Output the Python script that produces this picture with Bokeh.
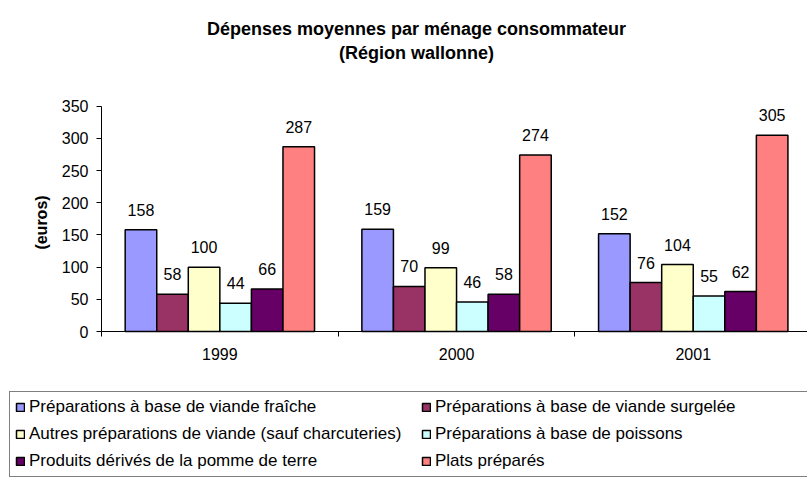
import math
from bokeh.plotting import figure
from bokeh.models import ColumnDataSource, Range1d, FixedTicker, Legend, LegendItem, Label
from bokeh.transform import dodge
from bokeh.core.properties import value
from bokeh.embed import file_html
from bokeh.resources import INLINE

# ---- data ----
years = ["1999", "2000", "2001"]
series_names = [
    "Préparations à base de viande fraîche",
    "Préparations à base de viande surgelée",
    "Autres préparations de viande (sauf charcuteries)",
    "Préparations à base de poissons",
    "Produits dérivés de la pomme de terre",
    "Plats préparés",
]
viande_fraiche = [158, 159, 152]
viande_surgelee = [58, 70, 76]
autres_viande = [100, 99, 104]
poissons = [44, 46, 55]
pomme_de_terre = [66, 58, 62]
plats_prepares = [287, 274, 305]
y_ticks = [0, 50, 100, 150, 200, 250, 300, 350]
title_line1 = "Dépenses moyennes par ménage consommateur"
title_line2 = "(Région wallonne)"
y_label = "(euros)"

colors = ["#9999FF", "#993366", "#FFFFCC", "#CCFFFF", "#660066", "#FF8080"]
series_values = [viande_fraiche, viande_surgelee, autres_viande, poissons,
                 pomme_de_terre, plats_prepares]

FONT = "Liberation Sans"
W, H = 807, 477

# pixel anchors of the plot area (layout only)
axis_x_px = 101.0      # y axis line
cat_w_px = 236.7       # width of one category
zero_y_px = 331.0      # x axis line (y = 0)
top_y_px = 105.7       # y = 350
y_max_axis = 350

px_per_unit = (zero_y_px - top_y_px) / y_max_axis
x_start = -axis_x_px / cat_w_px
x_end = (W - axis_x_px) / cat_w_px
y_start = -(H - zero_y_px) / px_per_unit
y_end = zero_y_px / px_per_unit

centers = [i + 0.5 for i in range(len(years))]
boundaries = [float(i) for i in range(len(years) + 1)]

data = {"xc": centers}
for k, vals in enumerate(series_values):
    data[f"s{k}"] = vals
    data[f"s{k}_lbl"] = [str(v) for v in vals]
src = ColumnDataSource(data)

p = figure(width=W, height=H, output_backend="svg", toolbar_location=None,
           x_range=Range1d(x_start, x_end), y_range=Range1d(y_start, y_end),
           min_border=0)
p.xgrid.visible = False
p.ygrid.visible = False
p.outline_line_color = None
p.background_fill_color = "white"
p.border_fill_color = "white"

n = len(series_values)
group = 0.8
bw = group / n

renderers = []
for k in range(n):
    off = (k - (n - 1) / 2) * bw
    r = p.vbar(x=dodge("xc", off), top=f"s{k}", width=bw, source=src,
               fill_color=colors[k], line_color="black", line_width=1.5)
    renderers.append(r)
    p.text(x=dodge("xc", off), y=f"s{k}", text=f"s{k}_lbl", source=src,
           text_align="center", text_baseline="alphabetic", y_offset=-20,
           text_font=value(FONT), text_font_size="16px", text_color="black")

# x axis, fixed at y = 0
xa = p.xaxis[0]
xa.fixed_location = 0
xa.bounds = (0, x_end)
xa.ticker = FixedTicker(ticks=centers, minor_ticks=boundaries)
xa.major_label_overrides = {c: y for c, y in zip(centers, years)}
xa.major_tick_out = 0
xa.major_tick_in = 0
xa.minor_tick_out = 5
xa.minor_tick_in = 0
xa.minor_tick_line_color = "black"
xa.axis_line_color = "black"
xa.major_label_standoff = 11
xa.major_label_text_font = FONT
xa.major_label_text_font_size = "16px"
xa.major_label_text_color = "black"

# y axis, fixed at x = 0
ya = p.yaxis[0]
ya.fixed_location = 0
ya.bounds = (0, y_max_axis)
ya.ticker = FixedTicker(ticks=y_ticks)
ya.major_tick_out = 5
ya.major_tick_in = 0
ya.minor_tick_out = 0
ya.minor_tick_in = 0
ya.axis_line_color = "black"
ya.major_tick_line_color = "black"
ya.major_label_standoff = 8
ya.major_label_text_font = FONT
ya.major_label_text_font_size = "16px"
ya.major_label_text_color = "black"

# y axis title
p.add_layout(Label(x=41, y=H - 222, x_units="screen", y_units="screen",
                   text=y_label, angle=math.pi / 2, text_align="center",
                   text_baseline="middle", text_font=FONT, text_font_size="16px",
                   text_font_style="bold", text_color="black"))

# chart title
for txt, base_px in [(title_line1, 28.5), (title_line2, 52.0)]:
    p.add_layout(Label(x=416, y=H - base_px, x_units="screen", y_units="screen",
                       text=txt, text_align="center", text_baseline="alphabetic",
                       text_font=FONT, text_font_size="18px",
                       text_font_style="bold", text_color="black"))

# legend (location = bottom-left corner of the box, in frame pixels)
legend_top_px = 389
legend_h_px = 88
items = [LegendItem(label=nm, renderers=[r]) for nm, r in zip(series_names, renderers)]
legend = Legend(items=items, location=(9, H - legend_top_px - legend_h_px),
                orientation="horizontal", ncols=2,
                glyph_width=10, glyph_height=10, label_standoff=4,
                label_width=385, label_height=20, spacing=7, padding=5,
                label_text_font=FONT, label_text_font_size="17px",
                label_text_color="black", border_line_color="black",
                border_line_width=1, background_fill_color="white",
                background_fill_alpha=1.0, margin=0)
p.add_layout(legend)

open("out.html", "w").write(file_html(p, INLINE))
